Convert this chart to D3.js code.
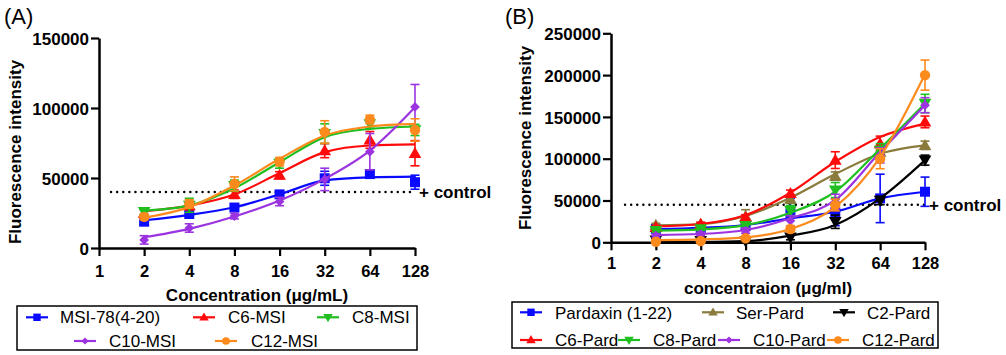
<!DOCTYPE html>
<html><head><meta charset="utf-8">
<script src="https://cdn.jsdelivr.net/npm/d3@7"></script>
<style>body{margin:0;background:#fff} svg{display:block;font-family:"Liberation Sans",Arial,sans-serif}</style>
</head><body><svg id="c" width="1006" height="355"></svg>
<script>
// ---------- shared ----------
const concentrations = [2, 4, 8, 16, 32, 64, 128];
const xTickValues = [1, 2, 4, 8, 16, 32, 64, 128];
const yTicksA = [0, 50000, 100000, 150000];
const yTicksB = [0, 50000, 100000, 150000, 200000, 250000];
const controlA = 40000;
const controlB = 45000;

// ---------- panel A (means, SD, fitted curve read at each concentration) ----------
const namesA = ["MSI-78(4-20)", "C6-MSI", "C8-MSI", "C10-MSI", "C12-MSI"];
const msi78Mean = [18800, 24300, 28900, 38300, 49800, 52800, 47000];
const msi78Err  = [2000, 2500, 2000, 2500, 5000, 2500, 5000];
const msi78Fit  = [19800, 23700, 29100, 38300, 48300, 50500, 51000];
const c6MsiMean = [25000, 30300, 38400, 52000, 69500, 77200, 67700];
const c6MsiErr  = [2000, 3000, 3000, 2500, 5000, 6000, 9000];
const c6MsiFit  = [26300, 30300, 38200, 53500, 68500, 73200, 74000];
const c8MsiMean = [26000, 30500, 44500, 60500, 81700, 88600, 84300];
const c8MsiErr  = [2000, 5000, 4000, 3500, 7000, 3000, 4000];
const c8MsiFit  = [26600, 30400, 42700, 61300, 79200, 85100, 86800];
const c10MsiMean = [5800, 14300, 22800, 33200, 49000, 68800, 100800];
const c10MsiErr  = [3000, 3000, 2000, 3000, 8000, 13000, 16000];
const c10MsiFit  = [7700, 13700, 22500, 33900, 49400, 69600, 100600];
const c12MsiMean = [22200, 31500, 45800, 61700, 82900, 91800, 84300];
const c12MsiErr  = [2000, 3000, 5000, 3000, 8000, 3000, 8000];
const c12MsiFit  = [21600, 29200, 44600, 63700, 80400, 86800, 88700];

// ---------- panel B ----------
const namesB = ["Pardaxin (1-22)", "Ser-Pard", "C2-Pard", "C6-Pard", "C8-Pard", "C10-Pard", "C12-Pard"];
const pardMean = [15900, 16700, 19500, 34600, 35800, 52500, 60500];
const pardErr  = [3000, 3000, 5000, 18000, 16000, 29000, 17500];
const pardFit  = [15900, 17300, 20700, 28700, 36600, 52500, 60500];
const serMean = [20700, 21900, 31000, 51700, 79200, 108000, 116000];
const serErr  = [2000, 2000, 8000, 5000, 5000, 6000, 5000];
const serFit  = [20200, 21700, 31400, 53300, 81600, 106000, 116000];
const c2Mean = [2500, 2000, 1500, 6000, 24600, 50000, 98300];
const c2Err  = [2000, 1500, 1500, 3000, 8000, 5000, 6000];
const c2Fit  = [300, 500, 1500, 7900, 20700, 52500, 98300];
const c6Mean = [18000, 21900, 30000, 58500, 98300, 118000, 144000];
const c6Err  = [2000, 2000, 3000, 4000, 10000, 9000, 7000];
const c6Fit  = [19000, 21900, 32600, 59300, 96300, 126000, 142000];
const c8Mean = [14000, 16000, 20000, 38000, 62500, 110000, 166000];
const c8Err  = [2000, 2000, 3000, 6000, 9000, 8000, 11000];
const c8Fit  = [14000, 15500, 20500, 35400, 60500, 112000, 166000];
const c10Mean = [8000, 9900, 13900, 25800, 48500, 104000, 164000];
const c10Err  = [2000, 2000, 3000, 6000, 9000, 9000, 9000];
const c10Fit  = [8700, 9900, 14700, 28700, 50500, 108000, 164000];
const c12Mean = [700, 1500, 4800, 15900, 44600, 100000, 200000];
const c12Err  = [1000, 1000, 1500, 4000, 7000, 12000, 18000];
const c12Fit  = [2700, 3600, 6000, 15900, 42500, 102000, 201000];

// ---------- styles ----------
const C = {blue:"#0a0aff", red:"#ff0a0a", green:"#1fbf1f", purple:"#9b33e0", orange:"#fd8a1c", brown:"#8a7a3c", black:"#000000"};
const symSquare = {type: d3.symbolSquare, size: 100, rot: 0};
const symUp = {type: d3.symbolTriangle, size: 70, rot: 0, dy: 1};
const symDown = {type: d3.symbolTriangle, size: 70, rot: 180, dy: -1};
const symDiamond = {type: d3.symbolDiamond2, size: 60, rot: 0};
const symCircle = {type: d3.symbolCircle, size: 85, rot: 0};

const seriesA = [
  {name: namesA[0], mean: msi78Mean, err: msi78Err, fit: msi78Fit, color: C.blue, sym: symSquare},
  {name: namesA[1], mean: c6MsiMean, err: c6MsiErr, fit: c6MsiFit, color: C.red, sym: symUp},
  {name: namesA[2], mean: c8MsiMean, err: c8MsiErr, fit: c8MsiFit, color: C.green, sym: symDown},
  {name: namesA[3], mean: c10MsiMean, err: c10MsiErr, fit: c10MsiFit, color: C.purple, sym: symDiamond},
  {name: namesA[4], mean: c12MsiMean, err: c12MsiErr, fit: c12MsiFit, color: C.orange, sym: symCircle}
];
const seriesB = [
  {name: namesB[0], mean: pardMean, err: pardErr, fit: pardFit, color: C.blue, sym: symSquare},
  {name: namesB[1], mean: serMean, err: serErr, fit: serFit, color: C.brown, sym: symUp},
  {name: namesB[2], mean: c2Mean, err: c2Err, fit: c2Fit, color: C.black, sym: symDown},
  {name: namesB[3], mean: c6Mean, err: c6Err, fit: c6Fit, color: C.red, sym: symUp},
  {name: namesB[4], mean: c8Mean, err: c8Err, fit: c8Fit, color: C.green, sym: symDown},
  {name: namesB[5], mean: c10Mean, err: c10Err, fit: c10Fit, color: C.purple, sym: symDiamond},
  {name: namesB[6], mean: c12Mean, err: c12Err, fit: c12Fit, color: C.orange, sym: symCircle}
];

const svg = d3.select("#c");

function drawSymbol(g, sym, cx, cy, color, scale) {
  const sz = sym.size * (scale || 1);
  g.append("path")
    .attr("d", d3.symbol().type(sym.type).size(sz)())
    .attr("transform", `translate(${cx},${cy + (sym.dy || 0) * (scale || 1)}) rotate(${sym.rot})`)
    .attr("fill", color);
}

function panel(cfg) {
  const g = svg.append("g");
  const x = d3.scaleLog().base(2).domain([1, 128]).range(cfg.xr);
  const y = d3.scaleLinear().domain([0, cfg.yMax]).range(cfg.yr);

  // panel letter
  g.append("text").attr("x", cfg.letterX).attr("y", 24).attr("font-size", 22).text(cfg.letter);

  // x axis
  const xa = g.append("g").attr("transform", `translate(0,${cfg.yr[0]})`)
    .call(d3.axisBottom(x).tickValues(xTickValues).tickFormat(d3.format("d")).tickSize(8).tickSizeOuter(0));
  xa.select(".domain").attr("stroke-width", 2.5);
  xa.selectAll(".tick line").attr("stroke-width", 2.2);
  xa.selectAll(".tick text").attr("dy", null).attr("y", cfg.xLabBase - cfg.yr[0])
    .attr("font-size", 16.5).attr("font-weight", "bold").attr("font-family", "Liberation Sans, Arial, sans-serif").attr("fill", "#000");

  // y axis
  const ya = g.append("g").attr("transform", `translate(${x(1)},0)`)
    .call(d3.axisLeft(y).tickValues(cfg.yTicks).tickFormat(d3.format("d")).tickSize(8).tickPadding(2).tickSizeOuter(0));
  ya.select(".domain").attr("stroke-width", 2.5);
  ya.selectAll(".tick line").attr("stroke-width", 2.2);
  ya.selectAll(".tick text").attr("dy", "0.36em")
    .attr("font-size", 17).attr("font-weight", "bold").attr("font-family", "Liberation Sans, Arial, sans-serif").attr("fill", "#000");

  // axis titles
  g.append("text").attr("transform", `translate(${cfg.yTitleX},${cfg.yTitleY}) rotate(-90)`)
    .attr("text-anchor", "middle").attr("font-size", 17).attr("font-weight", "bold").text("Fluorescence intensity");
  g.append("text").attr("x", cfg.xTitleX).attr("y", cfg.xTitleBase).attr("text-anchor", "middle")
    .attr("font-size", 17).attr("font-weight", "bold").text(cfg.xTitle);

  // control line
  g.append("line").attr("x1", cfg.ctrlX1).attr("x2", x(128)).attr("y1", y(cfg.control)).attr("y2", y(cfg.control))
    .attr("stroke", "#000").attr("stroke-width", 2.4).attr("stroke-linecap", "round").attr("stroke-dasharray", "0.1 6");
  g.append("text").attr("x", x(128) + 4).attr("y", y(cfg.control) + 6).attr("font-size", 17).attr("font-weight", "bold").text("+ control");

  // series
  const line = d3.line().x((d, i) => x(concentrations[i])).y(d => y(d)).curve(d3.curveMonotoneX);
  cfg.series.forEach(s => {
    const sg = g.append("g");
    sg.append("path").attr("d", line(s.fit)).attr("fill", "none").attr("stroke", s.color).attr("stroke-width", 2.2);
    s.mean.forEach((v, i) => {
      const cx = x(concentrations[i]);
      const y1 = y(v + s.err[i]), y0 = y(Math.max(0, v - s.err[i]));
      sg.append("line").attr("x1", cx).attr("x2", cx).attr("y1", y1).attr("y2", y0).attr("stroke", s.color).attr("stroke-width", 1.6);
      [y1, y0].forEach(yy => sg.append("line").attr("x1", cx - 4.5).attr("x2", cx + 4.5).attr("y1", yy).attr("y2", yy)
        .attr("stroke", s.color).attr("stroke-width", 1.6));
      drawSymbol(sg, s.sym, cx, y(v), s.color, 1);
    });
  });

  // legend
  const lg = g.append("g");
  lg.append("rect").attr("x", cfg.legBox[0]).attr("y", cfg.legBox[1]).attr("width", cfg.legBox[2]).attr("height", cfg.legBox[3])
    .attr("fill", "none").attr("stroke", "#000").attr("stroke-width", 1.5);
  cfg.legItems.forEach((it, i) => {
    const s = cfg.series[i];
    const ly = cfg.legRows[it.row];
    lg.append("line").attr("x1", it.sx).attr("x2", it.sx + 22).attr("y1", ly).attr("y2", ly).attr("stroke", s.color).attr("stroke-width", 2.2);
    drawSymbol(lg, s.sym, it.sx + 11, ly, s.color, 0.55);
    lg.append("text").attr("x", it.tx).attr("y", cfg.legBase[it.row]).attr("font-size", 17).text(s.name);
  });
}

panel({
  letter: "(A)", letterX: 4, xr: [99, 415], yr: [248, 38], yMax: 150000, yTicks: yTicksA,
  xLabBase: 276.5, yTitleX: 21, yTitleY: 152, xTitle: "Concentration (\u03bcg/mL)", xTitleX: 257, xTitleBase: 301,
  control: controlA, ctrlX1: 111, series: seriesA,
  legBox: [17, 306, 400, 44], legRows: [317.3, 341], legBase: [323.3, 346.7],
  legItems: [{row:0, sx:26, tx:60}, {row:0, sx:193, tx:228}, {row:0, sx:317, tx:352}, {row:1, sx:74, tx:109}, {row:1, sx:215, tx:251}]
});
panel({
  letter: "(B)", letterX: 505, xr: [611, 925], yr: [242.3, 33.3], yMax: 250000, yTicks: yTicksB,
  xLabBase: 269.3, yTitleX: 531, yTitleY: 138, xTitle: "concentraion (\u03bcg/ml)", xTitleX: 768, xTitleBase: 293.5,
  control: controlB, ctrlX1: 625, series: seriesB,
  legBox: [512, 302, 426, 46], legRows: [312.3, 340], legBase: [318.5, 345.7],
  legItems: [{row:0, sx:520, tx:555}, {row:0, sx:702, tx:736}, {row:0, sx:833, tx:867},
             {row:1, sx:520, tx:555}, {row:1, sx:618, tx:653}, {row:1, sx:718, tx:753}, {row:1, sx:827, tx:862}]
});
</script>
</body></html>
